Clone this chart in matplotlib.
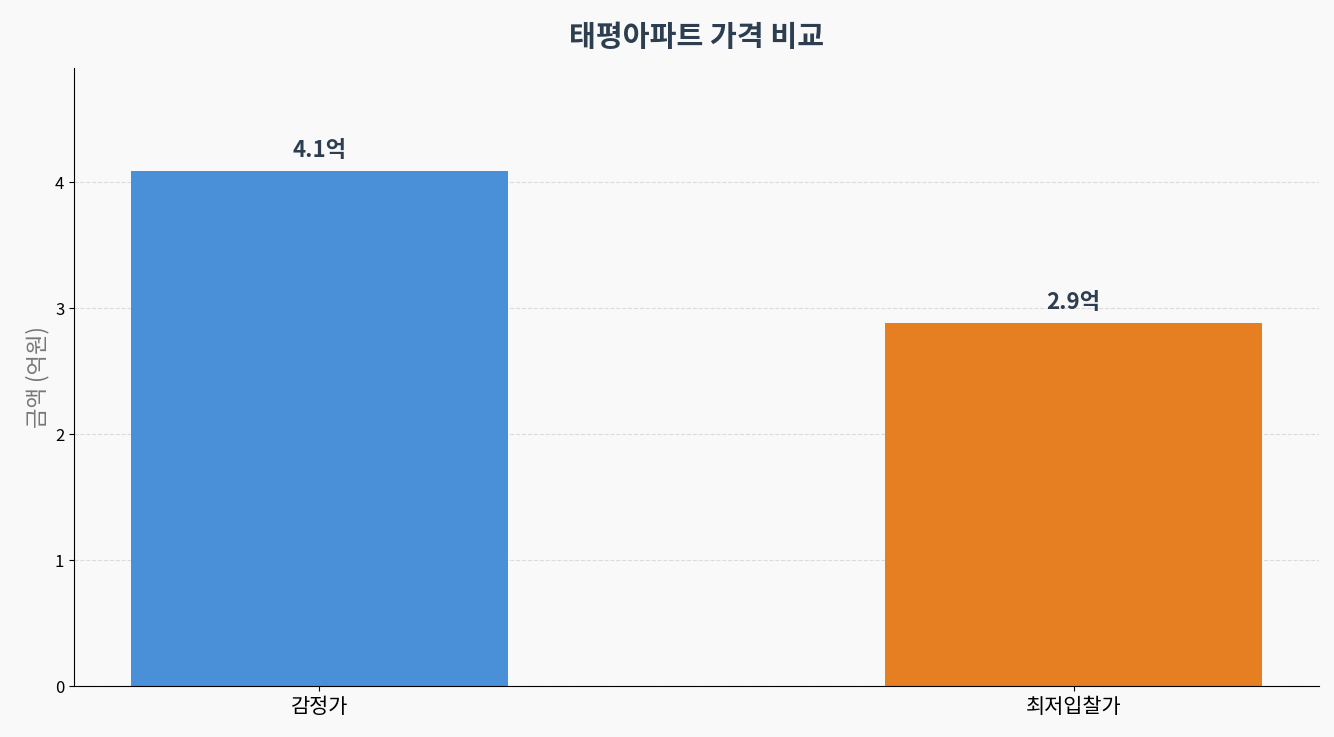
import matplotlib
matplotlib.use("Agg")
import matplotlib.pyplot as plt

plt.rcParams['font.family'] = ['Noto Sans CJK KR', 'DejaVu Sans']

categories = ["감정가", "최저입찰가"]
values = [4.09, 2.88]
labels = ["4.1억", "2.9억"]
colors = ["#4a90d9", "#e67e22"]

fig, ax = plt.subplots(figsize=(13.34, 7.37), dpi=100)
fig.patch.set_facecolor("#f9f9f9")
ax.set_facecolor("#f9f9f9")

bars = ax.bar(categories, values, width=0.5, color=colors)

for b, lab in zip(bars, labels):
    ax.text(b.get_x() + b.get_width() / 2, b.get_height() + 0.07, lab,
            ha='center', va='bottom', fontsize=16, fontweight='bold', color="#2c3e50")

ax.set_ylim(0, max(values) * 1.2)
ax.set_title("태평아파트 가격 비교", fontsize=21, fontweight='bold', color="#2c3e50", pad=16)
ax.set_ylabel("금액 (억원)", fontsize=16, color="#777777")
ax.tick_params(axis='y', labelsize=12)
ax.tick_params(axis='x', labelsize=15)
ax.yaxis.grid(True, linestyle='--', color="#d8d8d8", alpha=0.9)
ax.set_axisbelow(True)
ax.spines['top'].set_visible(False)
ax.spines['right'].set_visible(False)

plt.subplots_adjust(left=0.0555, right=0.9885, top=0.908, bottom=0.069)
plt.savefig("out.png", dpi=100, facecolor=fig.get_facecolor())
